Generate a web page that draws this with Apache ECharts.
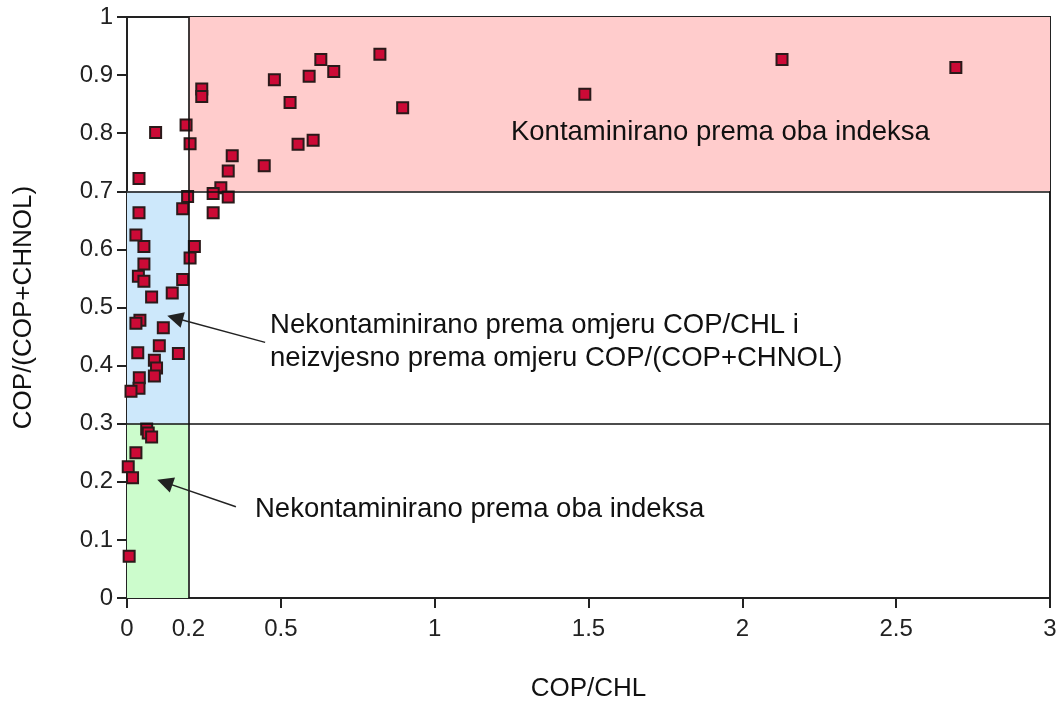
<!DOCTYPE html>
<html><head><meta charset="utf-8">
<script src="https://cdn.jsdelivr.net/npm/echarts@6/dist/echarts.min.js"></script>
<style>html,body{margin:0;padding:0;background:#fff}#c{width:1060px;height:707px}</style>
</head><body><div id="c"></div>
<script>
// Tick values
const xTickLabels = [0, 0.2, 0.5, 1, 1.5, 2, 2.5, 3];
const xTicks = [0, 0.5, 1, 1.5, 2, 2.5, 3];
// Sample values: COP/CHL (x) and COP/(COP+CHNOL) (y)
const copChl = [
  0.243, 0.243, 0.192, 0.205, 0.342, 0.329, 0.446, 0.479, 0.530, 0.556,
  0.605, 0.592, 0.630, 0.672, 0.822, 0.896, 1.488, 2.129, 2.694,
  0.305, 0.280, 0.329, 0.280, 0.197, 0.181,
  0.039, 0.093,
  0.039, 0.029, 0.055, 0.219, 0.205, 0.055, 0.037, 0.055, 0.181, 0.147,
  0.080, 0.042, 0.029, 0.118, 0.105, 0.035, 0.167, 0.089, 0.096, 0.089,
  0.040, 0.039, 0.013,
  0.064, 0.069, 0.080, 0.029, 0.004, 0.018, 0.007
];
const copRatio = [
  0.876, 0.863, 0.814, 0.782, 0.761, 0.735, 0.744, 0.892, 0.853, 0.781,
  0.788, 0.898, 0.927, 0.906, 0.936, 0.844, 0.867, 0.927, 0.913,
  0.706, 0.696, 0.690, 0.663, 0.691, 0.670,
  0.722, 0.801,
  0.663, 0.625, 0.605, 0.605, 0.585, 0.575, 0.554, 0.545, 0.548, 0.525,
  0.518, 0.478, 0.473, 0.465, 0.434, 0.422, 0.421, 0.409, 0.396, 0.382,
  0.379, 0.361, 0.356,
  0.291, 0.284, 0.277, 0.250, 0.226, 0.207, 0.072
];
// Classification thresholds
const chlLimit = [0.2];
const ratioLimits = [0.3, 0.7];

const annotations = [
  {text: 'Kontaminirano prema oba indeksa', at: [1.248, 0.801]},
  {text: 'Nekontaminirano prema omjeru COP/CHL i\nneizvjesno prema omjeru COP/(COP+CHNOL)', at: [0.465, 0.441]},
  {text: 'Nekontaminirano prema oba indeksa', at: [0.416, 0.153]}
];
const arrows = [
  {from: [0.449, 0.440], to: [0.156, 0.482]},
  {from: [0.354, 0.157], to: [0.123, 0.199]}
];

const points = copChl.map((x, i) => [x, copRatio[i]]);
const FONT = '"Liberation Sans", Arial, sans-serif';
const chart = echarts.init(document.getElementById('c'));
const option = {
  animation: false,
  backgroundColor: '#fff',
  grid: {left: 127, right: 10, top: 17, height: 586, show: true, borderColor: '#222', borderWidth: 2, backgroundColor: 'transparent'},
  xAxis: {
    type: 'value', min: 0, max: 3, interval: 0.5,
    name: 'COP/CHL', nameLocation: 'middle', nameGap: 78,
    nameTextStyle: {fontFamily: FONT, fontSize: 26, color: '#111'},
    axisLine: {show: true, lineStyle: {color: '#222', width: 2}},
    axisTick: {show: true, length: 10, customValues: xTicks, lineStyle: {color: '#222', width: 2}},
    axisLabel: {customValues: xTickLabels, margin: 19, fontFamily: FONT, fontSize: 24, color: '#222'},
    splitLine: {show: false}
  },
  yAxis: {
    type: 'value', min: 0, max: 1, interval: 0.1,
    name: 'COP/(COP+CHNOL)', nameLocation: 'middle', nameGap: 90,
    nameTextStyle: {fontFamily: FONT, fontSize: 26, color: '#111'},
    axisLine: {show: true, lineStyle: {color: '#222', width: 2}},
    axisTick: {show: true, length: 10, lineStyle: {color: '#222', width: 2}},
    axisLabel: {margin: 14, fontFamily: FONT, fontSize: 24, color: '#222'},
    splitLine: {show: false}
  },
  series: [
    {
      type: 'scatter', data: [], z: 1, silent: true,
      markArea: {
        silent: true,
        data: [
          [{xAxis: chlLimit[0], yAxis: ratioLimits[1], itemStyle: {color: '#ffcccc'}}, {xAxis: 3, yAxis: 1}],
          [{xAxis: 0, yAxis: ratioLimits[0], itemStyle: {color: '#cde8fb'}}, {xAxis: chlLimit[0], yAxis: ratioLimits[1]}],
          [{xAxis: 0, yAxis: 0, itemStyle: {color: '#ccfccc'}}, {xAxis: chlLimit[0], yAxis: ratioLimits[0]}]
        ]
      },
      markLine: {
        silent: true, symbol: 'none', label: {show: false},
        lineStyle: {color: '#111', width: 1.6, type: 'solid'},
        data: [{yAxis: ratioLimits[1]}, {yAxis: ratioLimits[0]}, {xAxis: chlLimit[0]}]
      }
    },
    {
      type: 'scatter', data: [], z: 4, silent: true,
      markLine: {
        silent: true, symbol: ['none', 'triangle'], symbolSize: 16, label: {show: false},
        itemStyle: {color: '#111'},
        lineStyle: {color: '#222', width: 1.5, type: 'solid'},
        data: arrows.map(a => [{coord: a.from}, {coord: a.to}])
      }
    },
    {
      type: 'scatter', z: 3,
      symbol: 'rect', symbolSize: 11,
      itemStyle: {color: '#cc0a36', borderColor: '#2a1a1a', borderWidth: 2, opacity: 1},
      data: points
    }
  ]
};
chart.setOption(option);
const gfx = annotations.map(a => {
  const p = chart.convertToPixel({gridIndex: 0}, a.at);
  return {
    type: 'text', x: p[0], y: p[1], z: 10,
    style: {text: a.text, fontFamily: FONT, fontSize: 27.5, fill: '#111', lineHeight: 33, verticalAlign: 'middle', align: 'left'}
  };
});
chart.setOption({graphic: gfx});
</script>
</body></html>
